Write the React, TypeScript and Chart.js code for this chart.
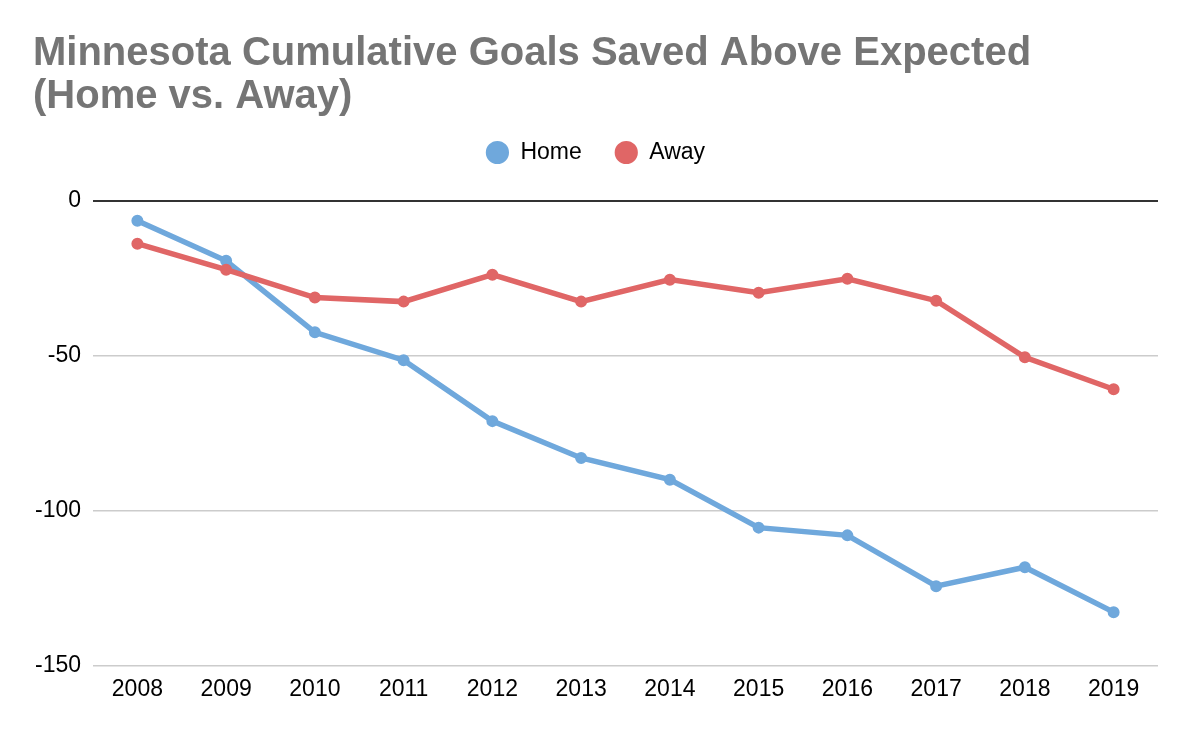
import React, { useEffect, useRef } from "react";
import { Chart, registerables } from "chart.js";

Chart.register(...registerables);

const years = ["2008", "2009", "2010", "2011", "2012", "2013", "2014", "2015", "2016", "2017", "2018", "2019"];
const homeValues = [-6.4, -19.3, -42.4, -51.4, -71.1, -83.0, -90.0, -105.5, -108.0, -124.4, -118.3, -132.8];
const awayValues = [-13.8, -22.2, -31.2, -32.5, -23.8, -32.5, -25.4, -29.6, -25.1, -32.2, -50.5, -60.8];
const titleLines = ["Minnesota Cumulative Goals Saved Above Expected", "(Home vs. Away)"];

const FONT = "'Liberation Sans', Arial, Helvetica, sans-serif";
const BLUE = "#6fa8dc";
const RED = "#e06666";

const legendGap = {
  id: "legendGap",
  beforeInit(chart: any) {
    const legend = chart.legend;
    if (!legend) return;
    const origFit = legend.fit;
    legend.fit = function () {
      origFit.call(this);
      this.height += 27;
    };
  },
};

export default function App() {
  const ref = useRef<HTMLCanvasElement | null>(null);
  useEffect(() => {
    if (!ref.current) return;
    const chart = new Chart(ref.current, {
      type: "line",
      plugins: [legendGap],
      data: {
        labels: years,
        datasets: [
          {
            label: "Home",
            data: homeValues,
            borderColor: BLUE,
            backgroundColor: BLUE,
            pointBackgroundColor: BLUE,
            pointBorderColor: BLUE,
            borderWidth: 5.5,
            pointRadius: 5,
            pointBorderWidth: 2,
            tension: 0,
            order: 1,
          },
          {
            label: "Away",
            data: awayValues,
            borderColor: RED,
            backgroundColor: RED,
            pointBackgroundColor: RED,
            pointBorderColor: RED,
            borderWidth: 5.5,
            pointRadius: 5,
            pointBorderWidth: 2,
            tension: 0,
            order: 0,
          },
        ],
      },
      options: {
        animation: false,
        responsive: true,
        maintainAspectRatio: false,
        layout: { padding: { left: 33, right: 36, top: 0, bottom: 25 } },
        plugins: {
          tooltip: { enabled: false },
          title: {
            display: true,
            text: titleLines,
            align: "start",
            color: "#757575",
            font: { family: FONT, size: 40, weight: "bold", lineHeight: 1.075 },
            padding: { top: 32, bottom: -10 },
          },
          legend: {
            display: true,
            position: "top",
            labels: {
              usePointStyle: true,
              pointStyle: "circle",
              boxWidth: 23,
              boxHeight: 15,
              padding: 33,
              color: "#000",
              font: { family: FONT, size: 23 },
              sort: (a: any, b: any) => a.datasetIndex - b.datasetIndex,
            },
          },
        },
        scales: {
          x: {
            offset: true,
            grid: { display: false, drawTicks: false },
            border: { display: false },
            ticks: { color: "#000", font: { family: FONT, size: 23 }, padding: 10, maxRotation: 0 },
          },
          y: {
            min: -150,
            max: 0,
            afterFit: (s: any) => {
              s.width = 60;
            },
            ticks: { stepSize: 50, color: "#000", font: { family: FONT, size: 23 }, padding: 12 },
            border: { display: false },
            grid: {
              drawTicks: false,
              color: (c: any) => (c.tick && c.tick.value === 0 ? "#333333" : "#cccccc"),
              lineWidth: (c: any) => (c.tick && c.tick.value === 0 ? 2 : 1.5),
            },
          },
        },
      },
    });
    return () => chart.destroy();
  }, []);
  return (
    <div style={{ position: "fixed", left: 0, top: 0, width: 1194, height: 738, background: "#fff" }}>
      <canvas ref={ref} />
    </div>
  );
}
